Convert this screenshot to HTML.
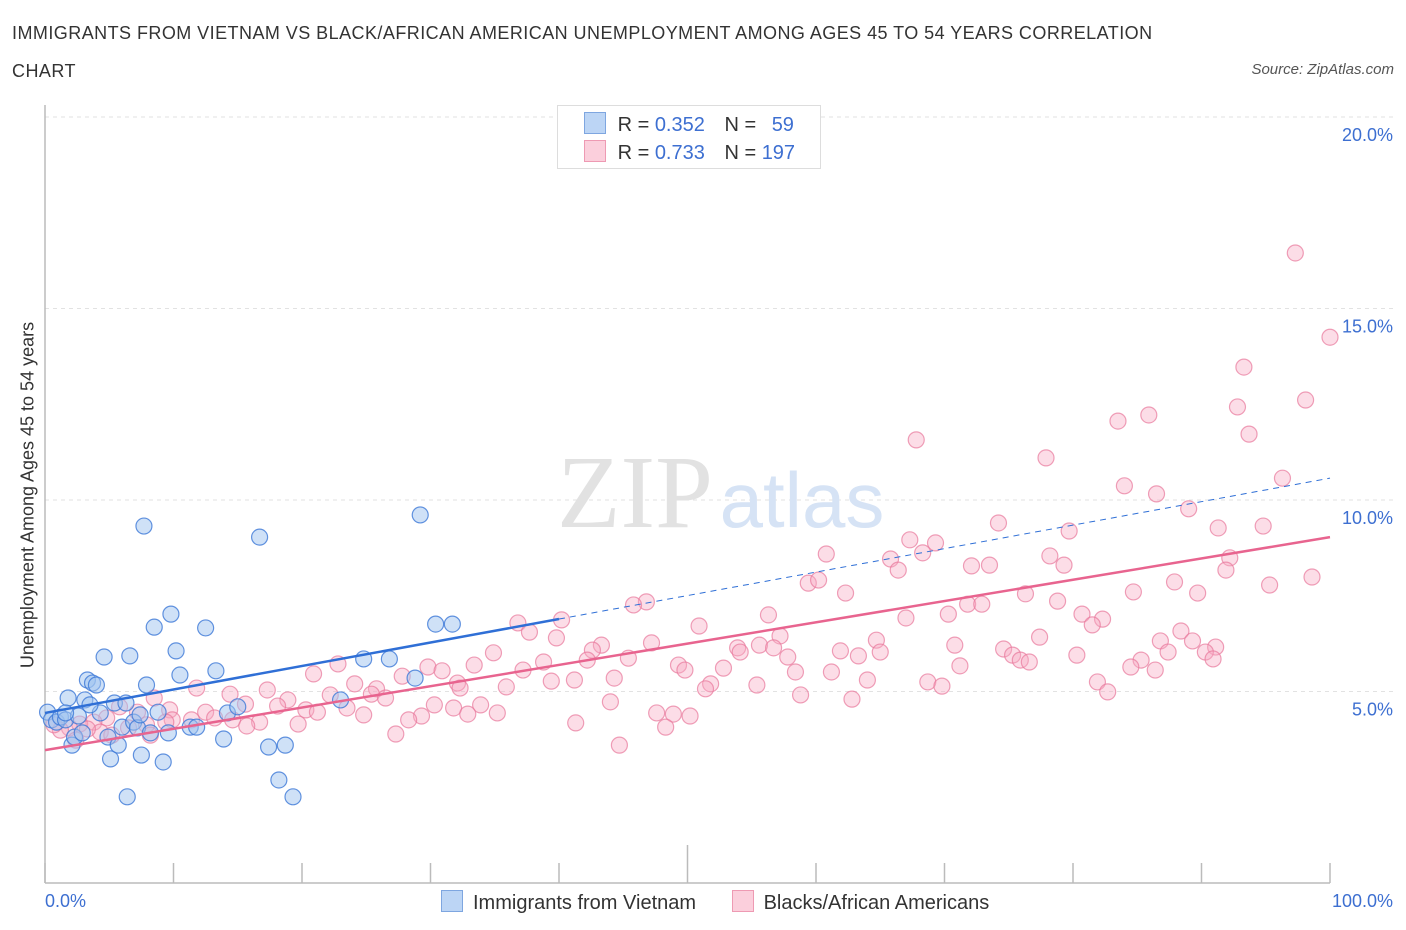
<!DOCTYPE html>
<html><head><meta charset="utf-8">
<style>
body{margin:0;background:#fff;font-family:"Liberation Sans",Arial,sans-serif;}
#wrap{position:relative;width:1406px;height:930px;overflow:hidden;}
.t{position:absolute;white-space:nowrap;}
</style></head>
<body>
<div id="wrap">
<div class="t" style="left:12px;top:14px;font-size:18px;letter-spacing:0.45px;color:#333;line-height:38px;width:1170px;white-space:normal;">IMMIGRANTS FROM VIETNAM VS BLACK/AFRICAN AMERICAN UNEMPLOYMENT AMONG AGES 45 TO 54 YEARS CORRELATION CHART</div>
<div class="t" style="right:12px;top:61px;font-size:15px;font-style:italic;color:#555;">Source: ZipAtlas.com</div>
<svg id="chart" width="1406" height="930" style="position:absolute;left:0;top:0;"></svg>
</div>
<script>
const blueX=[0.2,0.5,0.9,1.2,1.6,1.8,2.1,2.3,2.6,2.9,3.1,3.3,3.7,4.0,4.3,4.6,4.9,5.1,5.4,5.7,6.0,6.3,6.4,6.6,6.9,7.2,7.5,7.7,7.9,8.2,8.5,8.8,9.2,9.6,9.8,10.2,10.5,11.3,11.8,12.5,13.3,13.9,14.2,15.0,16.7,17.4,18.2,18.7,19.3,23.0,24.8,26.8,28.8,29.2,30.4,31.7,1.6,3.5,7.4];
const blueY=[4.46,4.26,4.20,4.33,4.26,4.83,3.60,3.81,4.36,3.92,4.78,5.30,5.22,5.17,4.44,5.90,3.81,3.24,4.70,3.60,4.07,4.70,2.25,5.93,4.20,4.05,3.34,9.32,5.17,3.92,6.68,4.46,3.16,3.92,7.02,6.06,5.43,4.07,4.07,6.66,5.54,3.76,4.44,4.60,9.03,3.55,2.69,3.60,2.25,4.78,5.85,5.85,5.35,9.61,6.76,6.76,4.44,4.65,4.39];
const pinkX=[97.3,100,93.3,92.8,98.1,85.9,83.5,93.7,67.8,77.9,96.3,84,86.5,89,74.2,91.3,94.8,79.7,67.3,69.3,60.8,65.8,78.2,92.2,68.3,72.1,73.5,79.3,66.4,91.9,98.6,59.4,60.2,87.9,95.3,62.3,84.7,89.7,76.3,46.8,45.8,78.8,71.8,72.9,56.3,80.7,82.3,67,70.3,81.5,50.9,40.2,36.8,37.7,57.2,88.4,77.4,64.7,39.8,47.2,43.3,86.8,89.3,70.8,61.9,55.6,53.9,74.6,91.1,65,87.4,42.6,56.7,54.1,90.3,34.9,75.3,57.8,80.3,42.2,45.4,63.3,71.2,85.3,75.9,76.6,90.9,84.5,38.8,33.4,29.8,30.9,52.8,49.3,22.8,49.8,61.2,58.4,37.2,39.4,41.2,44.3,81.9,86.4,20.9,27.8,32.1,64,68.7,51.8,55.4,69.8,82.7,58.8,51.4,35.9,32.3,24.1,25.8,17.3,11.8,14.4,25.4,22.2,18.9,26.5,62.8,44,30.3,33.9,8.5,23.5,31.8,18.1,15.6,5.8,9.7,20.3,21.2,24.8,29.3,32.9,35.2,47.6,48.9,50.2,12.5,13.2,7.2,4.8,11.4,9.9,14.6,16.7,19.7,28.3,41.3,9.4,7.9,6.5,3.8,2.7,1.9,15.7,48.3,4.3,1.2,0.7,27.3,44.7,5.2,8.2,2.4,3.3];
const pinkY=[16.45,14.25,13.47,12.43,12.61,12.22,12.06,11.72,11.57,11.10,10.57,10.37,10.16,9.77,9.40,9.27,9.32,9.19,8.96,8.88,8.59,8.46,8.54,8.49,8.62,8.28,8.30,8.30,8.17,8.17,7.99,7.83,7.91,7.86,7.78,7.57,7.60,7.57,7.55,7.34,7.26,7.36,7.28,7.28,7.00,7.02,6.89,6.92,7.02,6.74,6.71,6.87,6.79,6.55,6.45,6.58,6.42,6.34,6.40,6.27,6.21,6.32,6.32,6.21,6.06,6.21,6.14,6.11,6.16,6.03,6.03,6.08,6.14,6.03,6.03,6.01,5.95,5.90,5.95,5.82,5.87,5.93,5.67,5.82,5.82,5.77,5.85,5.64,5.77,5.69,5.64,5.54,5.61,5.69,5.72,5.56,5.51,5.51,5.56,5.27,5.30,5.35,5.25,5.56,5.46,5.40,5.22,5.30,5.25,5.20,5.17,5.14,4.99,4.91,5.07,5.12,5.09,5.20,5.07,5.04,5.09,4.93,4.93,4.91,4.78,4.83,4.80,4.73,4.65,4.65,4.83,4.57,4.57,4.62,4.67,4.60,4.52,4.52,4.46,4.39,4.36,4.41,4.44,4.44,4.41,4.36,4.46,4.31,4.46,4.31,4.26,4.26,4.26,4.20,4.15,4.26,4.18,4.20,4.13,4.05,4.20,4.15,4.05,4.10,4.07,3.94,3.99,4.13,3.89,3.60,3.86,3.86,3.73,4.02];
const blueTrend=[4.44,10.57]; // y at x=0 and x=100
const pinkTrend=[3.47,9.03];
const yTicks=[5,10,15,20];
const yTickLabels=["5.0%","10.0%","15.0%","20.0%"];

const NS="http://www.w3.org/2000/svg";
const svg=document.getElementById('chart');
const X0=45,X1=1330,Y0=883,YPER=38.3;
const sx=v=>X0+(X1-X0)*v/100;
const sy=v=>Y0-v*YPER;
function mk(tag,attrs){const e=document.createElementNS(NS,tag);for(const k in attrs)e.setAttribute(k,attrs[k]);svg.appendChild(e);return e;}

yTicks.forEach((t,i)=>{
  const g=mk('line',{x1:X0,x2:1395,y1:sy(t),y2:sy(t),stroke:'#e2e2e2','stroke-dasharray':'4,4'});
  
  
  const l=mk('text',{x:1393,y:sy(t)+24,'text-anchor':'end','font-size':18,fill:'#3d6fd1','font-family':'Liberation Sans, sans-serif'});
  l.textContent=yTickLabels[i];
  
  
});
const wm=mk('text',{x:635,y:527,'text-anchor':'middle','font-size':104,fill:'#e2e2e2','font-family':'Liberation Serif, serif'});
wm.textContent='ZIP';


const wm2=mk('text',{x:802,y:527,'text-anchor':'middle','font-size':78,fill:'#d6e3f5','font-family':'Liberation Sans, sans-serif'});
wm2.textContent='atlas';



const ya=mk('line',{x1:X0,x2:X0,y1:105,y2:Y0,stroke:'#bbb','stroke-width':1.5});


const xa=mk('line',{x1:X0,x2:X1,y1:Y0,y2:Y0,stroke:'#bbb','stroke-width':1.5});


for(let i=0;i<=10;i++){
  const x=sx(i*10);
  const tk=mk('line',{x1:x,x2:x,y1:i===5?845:863,y2:Y0,stroke:'#bbb','stroke-width':1.5});
  
  
}

function dots(xs,ys,fill,stroke,name){
  xs.forEach((v,i)=>{
    const c=mk('circle',{cx:sx(v),cy:sy(ys[i]),r:8,fill:fill,stroke:stroke,'stroke-width':1.2});
    
    
  });
}
dots(pinkX,pinkY,'rgba(247,170,195,0.4)','rgba(232,120,155,0.7)','pink-point');
dots(blueX,blueY,'rgba(160,195,240,0.5)','rgba(60,120,215,0.8)','blue-point');

const bx=40;
const bSolid=mk('line',{x1:sx(0),y1:sy(blueTrend[0]),x2:sx(bx),y2:sy(blueTrend[0]+(blueTrend[1]-blueTrend[0])*bx/100),stroke:'#2f6fd6','stroke-width':2.5});


const bDash=mk('line',{x1:sx(bx),y1:sy(blueTrend[0]+(blueTrend[1]-blueTrend[0])*bx/100),x2:sx(100),y2:sy(blueTrend[1]),stroke:'#2f6fd6','stroke-width':1,'stroke-dasharray':'6,5'});


const pl=mk('line',{x1:sx(0),y1:sy(pinkTrend[0]),x2:sx(100),y2:sy(pinkTrend[1]),stroke:'#e8648f','stroke-width':2.5});


</script>

<div class="t" style="left:28px;top:495px;font-size:18px;color:#333;transform:translate(-50%,-50%) rotate(-90deg);">Unemployment Among Ages 45 to 54 years</div>
<div class="t" style="left:45px;top:891px;font-size:18px;color:#3d6fd1;">0.0%</div>
<div class="t" style="right:13px;top:891px;font-size:18px;color:#3d6fd1;">100.0%</div>

<div style="position:absolute;left:557px;top:105px;width:262px;height:62px;border:1px solid #ddd;background:#fff;font-size:20px;color:#333;">
  <div style="position:absolute;left:26px;top:6px;">
    <span style="display:inline-block;width:20px;height:20px;background:#bcd5f5;border:1px solid #7ea6e0;vertical-align:-3px;"></span>
    <span style="margin-left:6px;">R = </span><span style="color:#3d6fd1;">0.352</span>
    <span style="margin-left:14px;">N = </span><span style="color:#3d6fd1;margin-left:10px;">59</span>
  </div>
  <div style="position:absolute;left:26px;top:34px;">
    <span style="display:inline-block;width:20px;height:20px;background:#fbcfdc;border:1px solid #ee9ab3;vertical-align:-3px;"></span>
    <span style="margin-left:6px;">R = </span><span style="color:#3d6fd1;">0.733</span>
    <span style="margin-left:14px;">N = </span><span style="color:#3d6fd1;">197</span>
  </div>
</div>

<div style="position:absolute;left:441px;top:890px;font-size:20px;color:#333;white-space:nowrap;">
  <span><span style="display:inline-block;width:20px;height:20px;background:#bcd5f5;border:1px solid #7ea6e0;vertical-align:-3px;"></span><span style="margin-left:10px;">Immigrants from Vietnam</span></span>
  <span style="margin-left:30px;"><span style="display:inline-block;width:20px;height:20px;background:#fbcfdc;border:1px solid #ee9ab3;vertical-align:-3px;"></span><span style="margin-left:10px;">Blacks/African Americans</span></span>
</div>
</body></html>
